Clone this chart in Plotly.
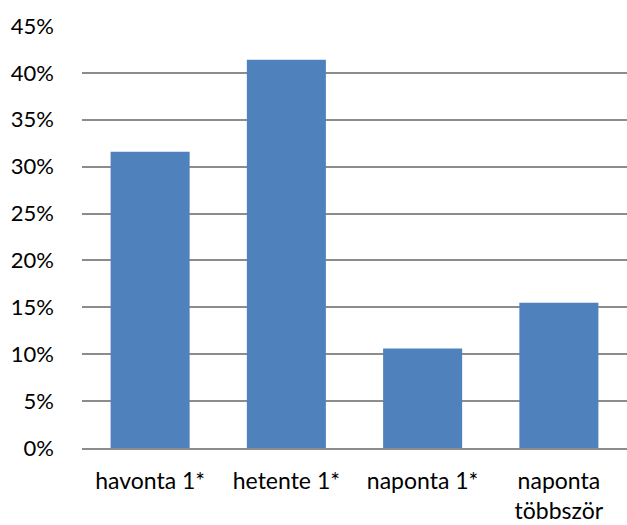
import plotly.graph_objects as go

categories = ["havonta 1*", "hetente 1*", "naponta 1*", "naponta<br>többször"]
values = [31.6, 41.4, 10.6, 15.5]
y_ticks = [0, 5, 10, 15, 20, 25, 30, 35, 40, 45]

fig = go.Figure(go.Bar(x=categories, y=values, marker=dict(color="#4F81BD", line=dict(width=0)), width=0.58))

yfont = dict(family="Lato, Open Sans, sans-serif", size=22, color="#000000")
xfont = dict(family="Lato, Open Sans, sans-serif", size=23, color="#000000")
fig.update_layout(
    width=627, height=525,
    margin=dict(l=82, r=0, t=26, b=77),
    paper_bgcolor="white", plot_bgcolor="white",
    showlegend=False,
    font=yfont,
)
fig.update_yaxes(
    range=[0, 45], tickvals=y_ticks, ticktext=[f"{v}%" for v in y_ticks],
    showgrid=True, gridcolor="#8C8C8C", gridwidth=1.5, zeroline=False,
    showline=False, ticks="", ticklabelstandoff=27, tickfont=yfont,
)
fig.update_xaxes(
    showline=True, linecolor="#8C8C8C", linewidth=1.5, ticks="",
    ticklabelstandoff=12, tickfont=xfont,
)
fig.write_html("out.html")
